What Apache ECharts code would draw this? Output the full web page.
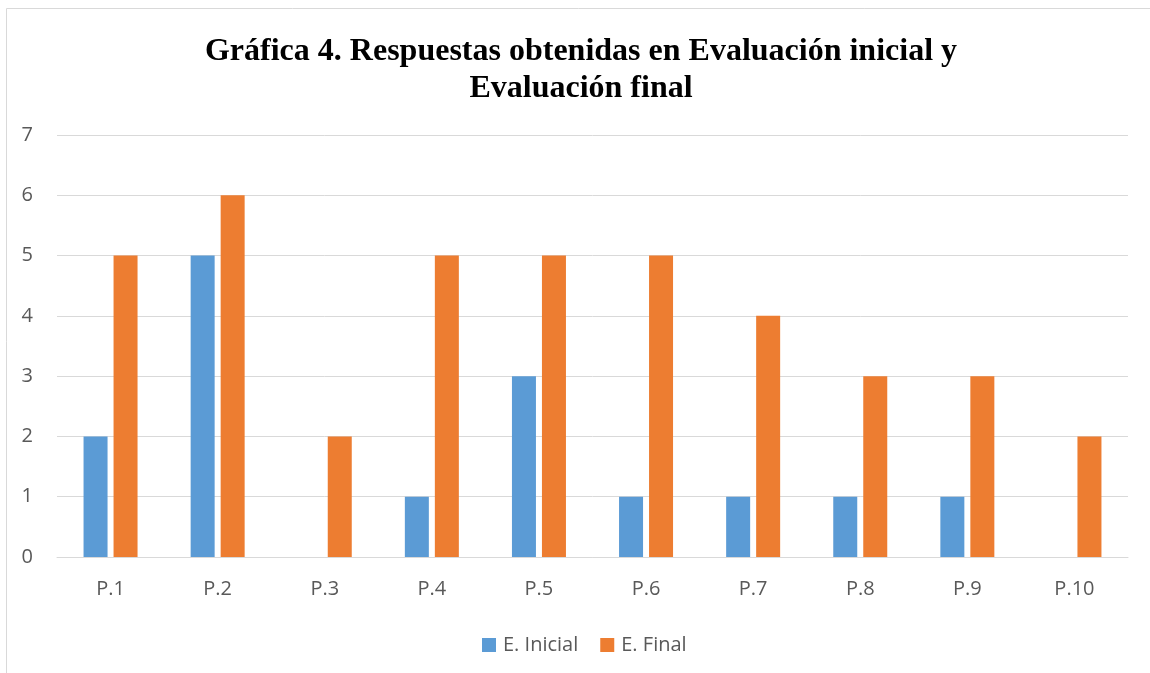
<!DOCTYPE html>
<html>
<head>
<meta charset="utf-8">
<script src="https://cdn.jsdelivr.net/npm/echarts@6/dist/echarts.min.js"></script>
<style>
  html, body { margin: 0; padding: 0; background: #fff; }
  #chart { width: 1150px; height: 673px; }
</style>
</head>
<body>
<div id="chart"></div>
<script>
const categories = ['P.1', 'P.2', 'P.3', 'P.4', 'P.5', 'P.6', 'P.7', 'P.8', 'P.9', 'P.10']
const inicial = [2, 5, 0, 1, 3, 1, 1, 1, 1, 0]
const final = [5, 6, 2, 5, 5, 5, 4, 3, 3, 2]
const yTicks = [0, 1, 2, 3, 4, 5, 6, 7]

const myChart = echarts.init(document.getElementById('chart'))

myChart.setOption({
  color: ['#5B9BD5', '#ED7D31'],
  textStyle: { fontFamily: 'Open Sans' },
  graphic: [
    {
      type: 'rect',
      shape: { x: 6.5, y: 8.5, width: 1160, height: 700 },
      style: { fill: 'none', stroke: '#d9d9d9', lineWidth: 1 },
      silent: true
    }
  ],
  title: {
    text: 'Gráfica 4. Respuestas obtenidas en Evaluación inicial y\nEvaluación final',
    left: 576,
    textAlign: 'center',
    top: 28,
    textStyle: {
      fontFamily: 'Liberation Serif',
      fontWeight: 'bold',
      fontSize: 32,
      lineHeight: 37,
      color: '#000'
    }
  },
  legend: {
    top: 630,
    left: 477,
    itemWidth: 14,
    itemHeight: 14,
    itemGap: 22,
    icon: 'rect',
    textStyle: { fontSize: 20, color: '#595959', fontFamily: 'Open Sans', padding: [0, 0, 0, 2] },
    data: ['E. Inicial', 'E. Final']
  },
  grid: {
    left: 57,
    right: 22,
    top: 135,
    bottom: 116
  },
  xAxis: {
    type: 'category',
    data: categories,
    axisTick: { show: false },
    axisLine: { show: true, lineStyle: { color: '#d9d9d9' } },
    axisLabel: { color: '#595959', fontSize: 20, margin: 22 }
  },
  yAxis: {
    type: 'value',
    min: yTicks[0],
    max: yTicks[yTicks.length - 1],
    interval: 1,
    axisLine: { show: false },
    axisTick: { show: false },
    axisLabel: { color: '#595959', fontSize: 20, margin: 24 },
    splitLine: { show: true, lineStyle: { color: '#d9d9d9', width: 1 } }
  },
  series: [
    {
      name: 'E. Inicial',
      type: 'bar',
      data: inicial,
      barWidth: 24,
      barGap: '25%'
    },
    {
      name: 'E. Final',
      type: 'bar',
      data: final,
      barWidth: 24,
      barGap: '25%'
    }
  ]
})

window.addEventListener('resize', () => {
  myChart.resize()
})
</script>
</body>
</html>
